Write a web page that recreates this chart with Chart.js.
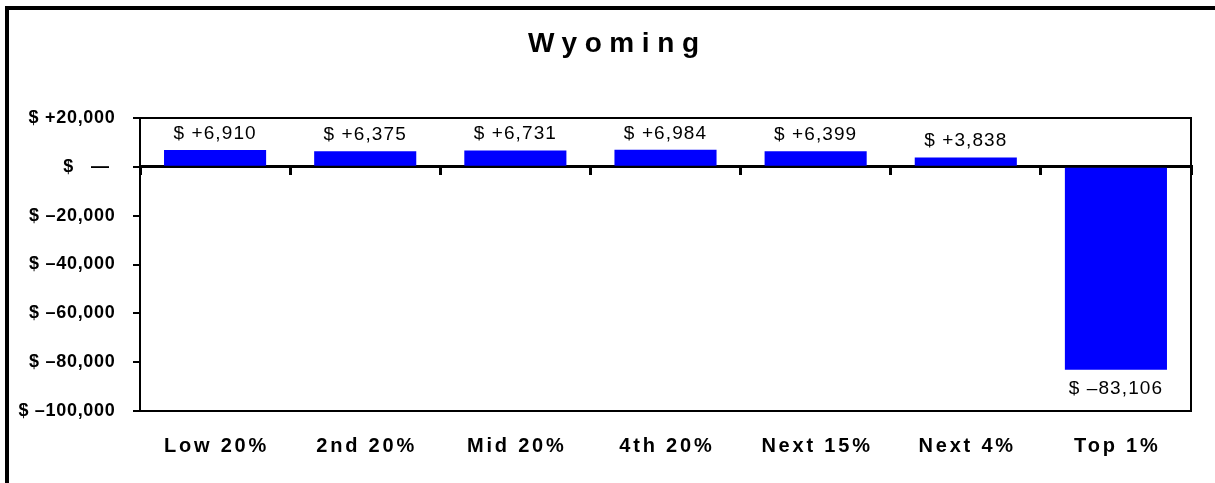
<!DOCTYPE html>
<html><head><meta charset="utf-8">
<script src="https://cdn.jsdelivr.net/npm/chart.js@4"></script>
<style>
html,body{margin:0;padding:0;background:#fff;overflow:hidden;width:1215px;height:483px;}
#wrap{position:relative;width:1215px;height:483px;overflow:hidden;background:#fff;}
#c{position:absolute;left:0;top:0;}
#frame{position:absolute;left:5px;top:6px;width:1400px;height:600px;border-left:4px solid #000;border-top:4px solid #000;pointer-events:none;}
</style></head><body>
<div id="wrap"><canvas id="c" width="1215" height="483"></canvas><div id="frame"></div></div>
<script>
const chartTitle = 'Wyoming';
const categories = ['Low 20%', '2nd 20%', 'Mid 20%', '4th 20%', 'Next 15%', 'Next 4%', 'Top 1%'];
const changeValues = [6910, 6375, 6731, 6984, 6399, 3838, -83106];
const yTickValues = [20000, 0, -20000, -40000, -60000, -80000, -100000];
const yTickLabels = ['$ +20,000', '$   \u2014 ', '$ \u201320,000', '$ \u201340,000', '$ \u201360,000', '$ \u201380,000', '$ \u2013100,000'];

const FONT = '"Liberation Sans", Arial, Helvetica, sans-serif';
const spacingById = { y: 0.7, x: 2.8 };
const titleSpacing = 7.6;
const titleShift = 21.8;

function fmtValue(v) {
  return '$ ' + (v < 0 ? '\u2013' : '+') + Math.abs(v).toLocaleString('en-US');
}

// letter spacing for axis labels
const origDrawLabels = Chart.Scale.prototype.drawLabels;
Chart.Scale.prototype.drawLabels = function (area) {
  const ctx = this.ctx;
  const s = spacingById[this.id] || 0;
  ctx.save();
  ctx.letterSpacing = s + 'px';
  if (this.id === 'x') ctx.translate(s / 2, 0);
  origDrawLabels.call(this, area);
  ctx.restore();
};

// letter spacing and horizontal placement for the title
const TitleEl = Chart.Title && Chart.Title._element;
if (TitleEl) {
  const origTitleDraw = TitleEl.prototype.draw;
  TitleEl.prototype.draw = function () {
    const ctx = this.ctx;
    ctx.save();
    ctx.letterSpacing = titleSpacing + 'px';
    ctx.translate(titleShift, 0);
    origTitleDraw.apply(this, arguments);
    ctx.restore();
  };
}

const decoPlugin = {
  id: 'deco',
  afterDatasetsDraw(chart) {
    const ctx = chart.ctx;
    const a = chart.chartArea;
    ctx.save();
    ctx.strokeStyle = '#000';
    ctx.lineWidth = 2;
    ctx.beginPath();
    ctx.moveTo(a.left - 1, a.top);
    ctx.lineTo(a.right, a.top);
    ctx.lineTo(a.right, a.bottom + 1);
    ctx.stroke();
    const meta = chart.getDatasetMeta(0);
    ctx.font = '19px ' + FONT;
    ctx.fillStyle = '#000';
    ctx.textAlign = 'center';
    ctx.textBaseline = 'alphabetic';
    ctx.letterSpacing = '1.1px';
    meta.data.forEach((bar, i) => {
      const v = changeValues[i];
      const y = v >= 0 ? bar.y - 11 : bar.y + 24.6;
      ctx.fillText(fmtValue(v), bar.x, y);
    });
    ctx.restore();
  }
};

new Chart(document.getElementById('c'), {
  type: 'bar',
  data: {
    labels: categories,
    datasets: [{
      data: changeValues,
      backgroundColor: '#0000FF',
      borderWidth: 0,
      barPercentage: 0.68,
      categoryPercentage: 1
    }]
  },
  plugins: [decoPlugin],
  options: {
    responsive: false,
    animation: false,
    events: [],
    layout: { padding: { top: 0, right: 24, bottom: 0, left: 0 } },
    plugins: {
      legend: { display: false },
      tooltip: { enabled: false },
      title: {
        display: true,
        text: chartTitle,
        color: '#000',
        font: { family: FONT, size: 28, weight: 'bold' },
        padding: { top: 27.2, bottom: 57.2 }
      }
    },
    scales: {
      x: {
        type: 'category',
        position: 'bottom',
        offset: true,
        grid: { display: false, offset: true },
        border: { display: true, color: '#000', width: 2 },
        ticks: { color: '#000', font: { family: FONT, size: 20, weight: 'bold' }, padding: 15, maxRotation: 0, autoSkip: false },
        afterFit(scale) { scale.height = 72; }
      },
      x2: {
        type: 'category',
        position: { y: 0 },
        offset: true,
        grid: { display: true, offset: true, drawOnChartArea: false, drawTicks: true, tickLength: 7, tickColor: '#000', lineWidth: 3 },
        border: { display: true, color: '#000', width: 3 },
        ticks: { display: false }
      },
      y: {
        min: -100000,
        max: 20000,
        grid: { display: true, drawOnChartArea: false, drawTicks: true, tickLength: 7, tickColor: '#000', lineWidth: 2 },
        border: { display: true, color: '#000', width: 2 },
        ticks: {
          stepSize: 20000,
          color: '#000',
          padding: 17.5,
          font: { family: FONT, size: 18, weight: 'bold' },
          callback(value) {
            const i = yTickValues.indexOf(value);
            return i >= 0 ? yTickLabels[i] : '';
          }
        },
        afterFit(scale) { scale.width = 140; }
      }
    }
  }
});
</script>
</body></html>
